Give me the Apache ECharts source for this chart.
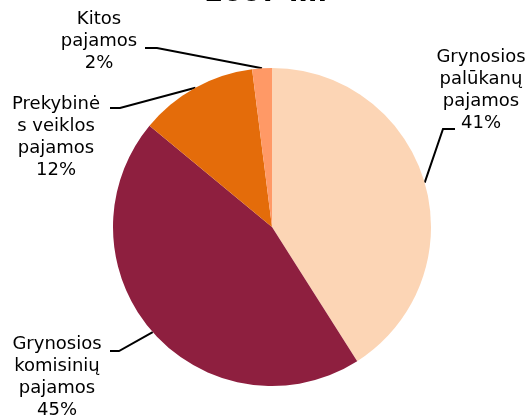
<!DOCTYPE html>
<html>
<head>
<meta charset="utf-8">
<script src="https://cdn.jsdelivr.net/npm/echarts@6/dist/echarts.min.js"></script>
<style>
  html, body { margin: 0; padding: 0; background: #fff; }
  #chart { width: 532px; height: 416px; }
</style>
</head>
<body>
<div id="chart"></div>
<script>
// 数据
const titleText = '2007 m.'
const categories = [
  'Grynosios\npalūkanų\npajamos',
  'Grynosios\nkomisinių\npajamos',
  'Prekybinė\ns veiklos\npajamos',
  'Kitos\npajamos'
]
const shares = [41, 45, 12, 2]
const colors = ['#FCD5B5', '#8E1F3F', '#E46C0A', '#FF9966']

// 标签位置（标签中心 + 引导线的拐点和端点，相对标签中心）
const labelPos = [
  { x: 481, y: 90, elbow: [-38, 39], end: [-26, 39] },
  { x: 57, y: 377, elbow: [62, -26], end: [53, -26] },
  { x: 56, y: 137, elbow: [64, -29], end: [54, -29] },
  { x: 99, y: 41, elbow: [58, 7], end: [46, 7] }
]

const chart = echarts.init(document.getElementById('chart'))

const option = {
  animation: false,
  title: {
    text: titleText,
    left: 'center',
    top: -20,
    padding: 0,
    textStyle: {
      fontFamily: 'DejaVu Sans',
      fontSize: 27,
      fontWeight: 'bold',
      color: '#000'
    }
  },
  series: [
    {
      type: 'pie',
      center: [272, 227],
      radius: 159,
      startAngle: 90,
      clockwise: true,
      avoidLabelOverlap: false,
      data: categories.map((name, i) => ({
        name,
        value: shares[i],
        itemStyle: { color: colors[i] }
      })),
      itemStyle: { borderWidth: 0 },
      label: {
        show: true,
        position: 'outside',
        formatter: p => p.name + '\n' + p.value + '%',
        fontFamily: 'DejaVu Sans',
        fontSize: 18,
        lineHeight: 22,
        color: '#000',
        align: 'center'
      },
      labelLine: {
        show: true,
        lineStyle: { color: '#000', width: 2 }
      },
      labelLayout: params => {
        const pos = labelPos[params.dataIndex]
        const pts = params.labelLinePoints || [[pos.x, pos.y]]
        return {
          x: pos.x,
          y: pos.y,
          align: 'center',
          verticalAlign: 'middle',
          labelLinePoints: [
            pts[0],
            [pos.x + pos.elbow[0], pos.y + pos.elbow[1]],
            [pos.x + pos.end[0], pos.y + pos.end[1]]
          ]
        }
      },
      emphasis: { disabled: true }
    }
  ]
}

chart.setOption(option)
</script>
</body>
</html>
